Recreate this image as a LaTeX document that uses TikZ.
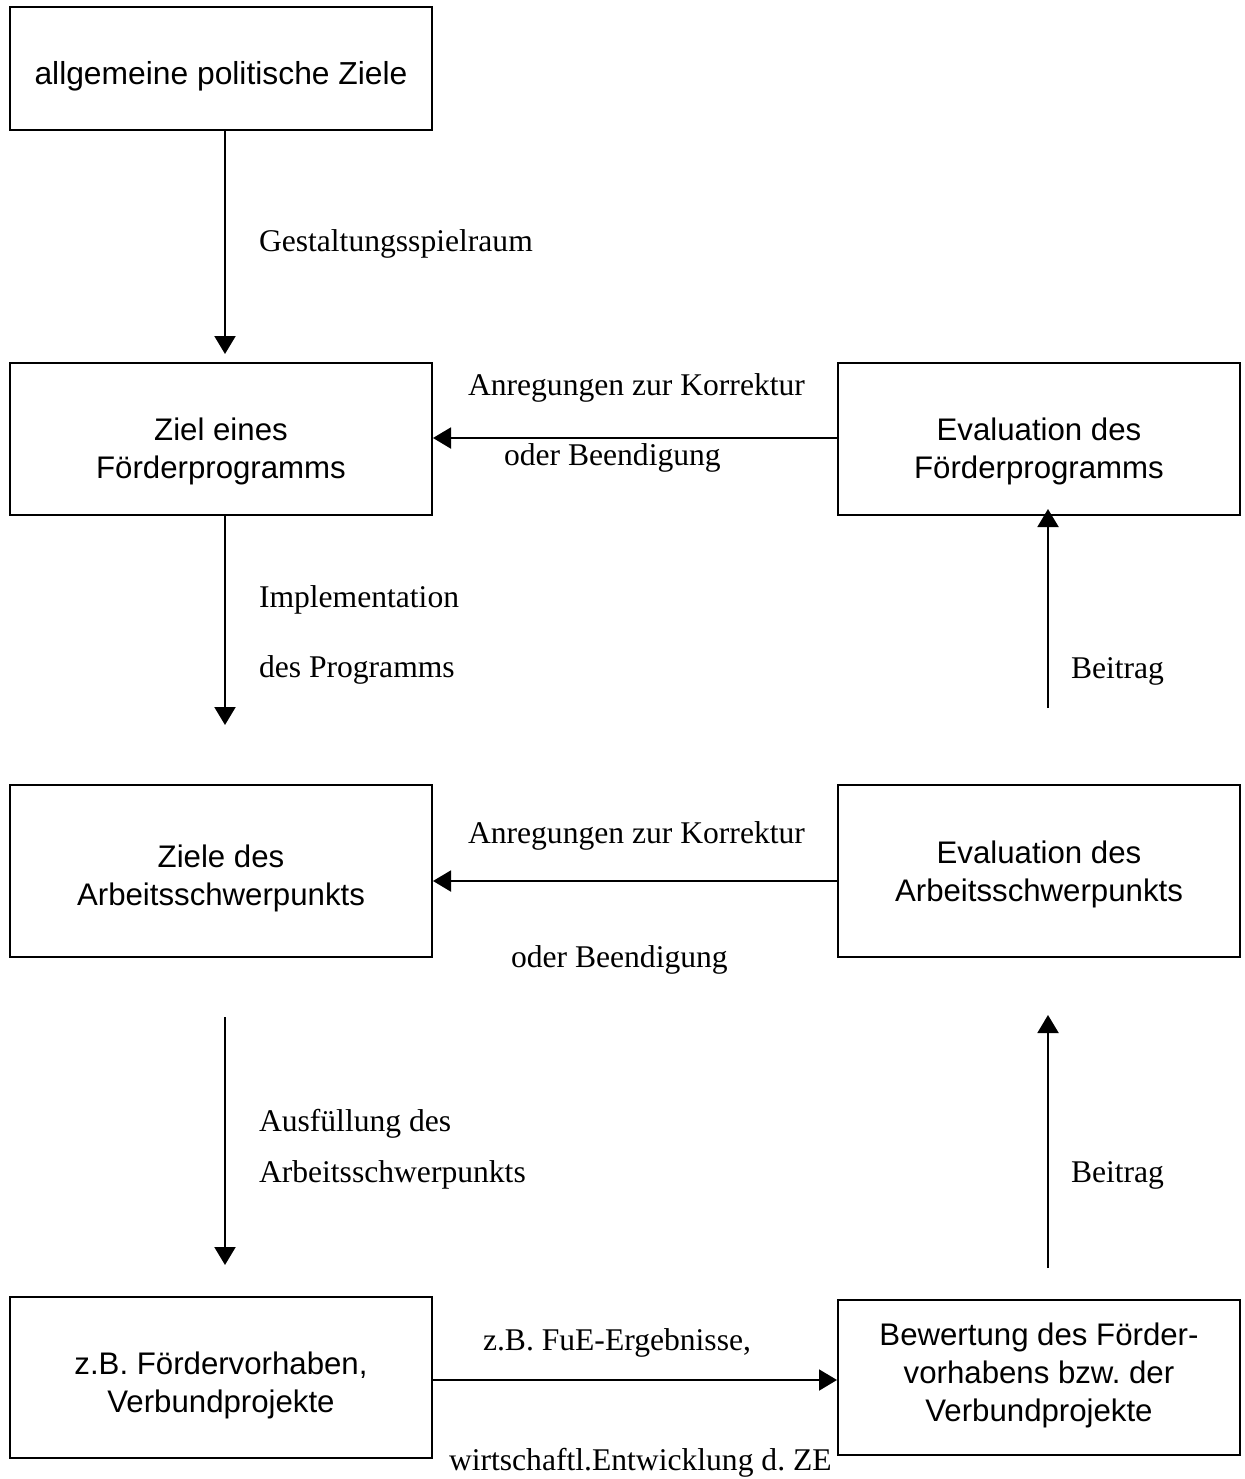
\documentclass[tikz,border=0pt]{standalone}
\usepackage{fontspec}
\setmainfont{Liberation Serif}
\setsansfont{Liberation Sans}
\usetikzlibrary{arrows.meta,positioning}
\frenchspacing

\begin{document}
\begin{tikzpicture}[x=0.5pt,y=-0.5pt,>={Triangle[length=9pt,width=10.5pt]},line width=1pt,
 blk/.style={draw,line width=1pt,minimum width=211pt},
 rblk/.style={blk,minimum width=201pt},
 txt/.style={align=center,font=\sffamily\fontsize{15.6}{19}\selectfont},
 lbl/.style={anchor=base west,inner sep=0pt,font=\fontsize{15.8}{19}\selectfont}]
\useasboundingbox (0,0) rectangle (1244,1479);
% left column
\node[blk,minimum height=61.5pt,label={[txt,yshift=-4pt,font=\sffamily\fontsize{15.9}{19}\selectfont]center:allgemeine politische Ziele}] (pol) at (221,68.5) {};
\node[blk,minimum height=76pt,label={[txt,yshift=-6pt]center:{Ziel eines\\Förderprogramms}}] (zfp) at (221,439) {};
\node[blk,minimum height=86pt,label={[txt,yshift=-3.5pt]center:{Ziele des\\Arbeitsschwerpunkts}}] (zas) at (221,871) {};
\node[blk,minimum height=80.5pt,label={[txt,yshift=-4pt]center:{z.B. Fördervorhaben,\\Verbundprojekte}}] (fv) at (221,1377.5) {};
% right column
\node[rblk,minimum height=76pt,label={[txt,yshift=-6pt]center:{Evaluation des\\Förderprogramms}}] (efp) at (1039,439) {};
\node[rblk,minimum height=86pt,label={[txt,yshift=-1.5pt]center:{Evaluation des\\Arbeitsschwerpunkts}}] (eas) at (1039,871) {};
\node[rblk,minimum height=77.5pt,label={[txt,yshift=1pt]center:{Bewertung des Förder-\\vorhabens bzw. der\\Verbundprojekte}}] (bew) at (1039,1377.5) {};
% free arrow ends
\coordinate (impl) at (225,725);
\coordinate (aus1) at (225,1017);
\coordinate (aus2) at (225,1265);
\coordinate (bei1) at (1048,708);
\coordinate (bei2) at (1048,1268);
\coordinate (bei3) at (1048,1015);
% connectors
\draw[->,shorten >=4pt] ([xshift=2pt]pol.south) -- ([xshift=2pt]zfp.north);
\draw[->] ([xshift=2pt]zfp.south) -- (impl);
\draw[->] (aus1) -- (aus2);
\draw[->,shorten >=-3.5pt] (bei1) -- ([xshift=4.5pt]efp.south);
\draw[->] (bei2) -- (bei3);
\draw[->] ([yshift=0.5pt]efp.west) -- ([yshift=0.5pt]zfp.east);
\draw[->] ([yshift=-5pt]eas.west) -- ([yshift=-5pt]zas.east);
\draw[->] ([yshift=-1.25pt]fv.east) -- ([yshift=-1.25pt]bew.west);
% labels
\node[lbl] (gs) at (258,251) {Gestaltungsspielraum};
\node[lbl] (ak1) at (467,395) {Anregungen zur Korrektur};
\node[lbl] (ob1) at (503,465) {oder Beendigung};
\node[lbl] (im1) at (258,607) {Implementation};
\node[lbl] (im2) at (258,677) {des Programms};
\node[lbl] (bt1) at (1070,678) {Beitrag};
\node[lbl] (ak2) at (467,843) {Anregungen zur Korrektur};
\node[lbl] (ob2) at (510,967) {oder Beendigung};
\node[lbl] (af1) at (258,1131) {Ausfüllung des};
\node[lbl] (af2) at (258,1182) {Arbeitsschwerpunkts};
\node[lbl] (bt2) at (1070,1182) {Beitrag};
\node[lbl] (fue) at (482,1350) {z.B. FuE-Ergebnisse,};
\node[lbl] (we) at (448,1470) {wirtschaftl.Entwicklung d. ZE};
\end{tikzpicture}
\end{document}
